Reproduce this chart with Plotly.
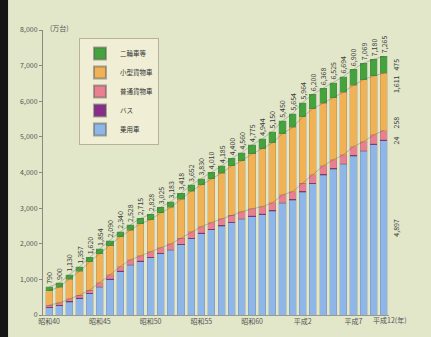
import plotly.graph_objects as go

years = [str(y) for y in range(1965, 1996)] + ["1998", "1999", "2000"]
tick_years = ["1965", "1970", "1975", "1980", "1985", "1990", "1995"]
tick_text = ["昭和40", "昭和45", "昭和50", "昭和55", "昭和60", "平成2", "平成7"]
last_tick_text = "平成12(年)"

passenger = [205, 256, 363, 462, 591, 780, 993, 1216, 1393, 1495, 1606, 1713, 1811, 1966, 2137, 2282,
             2390, 2492, 2587, 2682, 2757, 2815, 2913, 3132, 3220, 3451, 3679, 3926, 4090, 4225, 4454,
             4592, 4777, 4897]
bus = [15, 16, 17, 18, 19, 20, 21, 21, 22, 22, 22, 22, 23, 23, 23, 23, 23, 23, 23, 23, 23, 23, 23, 23,
       24, 24, 24, 24, 24, 24, 24, 24, 24, 24]
large_truck = [60, 65, 70, 80, 90, 100, 110, 120, 130, 140, 150, 155, 160, 165, 170, 175, 180, 185, 190,
               195, 200, 205, 210, 215, 220, 225, 230, 235, 240, 245, 250, 252, 255, 258]
small_truck = [400, 448, 560, 672, 790, 819, 826, 838, 833, 908, 895, 975, 1024, 1094, 1147, 1170, 1227,
               1285, 1385, 1430, 1545, 1621, 1684, 1720, 1800, 1864, 1857, 1763, 1741, 1760, 1722, 1741,
               1656, 1611]
two_wheel = [110, 115, 120, 125, 130, 135, 140, 145, 150, 150, 155, 160, 165, 170, 175, 180, 190, 200,
             215, 230, 250, 280, 320, 360, 390, 400, 410, 420, 430, 440, 450, 460, 468, 475]

names = ["乗用車", "バス", "普通貨物車", "小型貨物車", "二輪車等"]
colors = ["#8fb6e8", "#8a2c8c", "#e97f90", "#f1b155", "#44a33c"]
series = [passenger, bus, large_truck, small_truck, two_wheel]

totals = [sum(v) for v in zip(*series)]

FONT = "Noto Sans CJK JP"
fig = go.Figure()
for i, (nm, col, vals) in enumerate(zip(names, colors, series)):
    kw = {}
    if i == len(series) - 1:
        kw = dict(text=[f"{t:,}" for t in totals], textposition="outside", textangle=-90,
                  constraintext="none", cliponaxis=False,
                  textfont=dict(size=7, color="#3a3a3a", family=FONT))
    fig.add_trace(go.Bar(x=years, y=vals, name=nm,
                         marker=dict(color=col, line=dict(width=0.4, color="rgba(90,90,90,0.5)")),
                         hoverinfo="skip", **kw))

# boundary guide lines
cum = [0] * len(years)
bounds = []
for vals in series:
    cum = [c + v for c, v in zip(cum, vals)]
    bounds.append(cum[:])
for b in (bounds[2], bounds[3], bounds[4]):
    fig.add_trace(go.Scatter(x=years, y=b, mode="lines", line=dict(color="rgba(80,80,80,0.45)", width=0.7),
                             showlegend=False, hoverinfo="skip"))

# side labels for last bar (x given as category index)
last = len(years) - 1
side = [
    (f"{two_wheel[last]:,}", totals[last] - two_wheel[last] / 2, "middle"),
    (f"{small_truck[last]:,}", bounds[3][last], "top"),
    (f"{large_truck[last]:,}", bounds[2][last], "bottom"),
    (f"{bus[last]:,}", bounds[0][last], "middle"),
    (f"{passenger[last]:,}", passenger[last] / 2, "middle"),
]
for txt, yv, ya in side:
    fig.add_annotation(x=last, y=yv, text=txt, textangle=-90, showarrow=False,
                       xshift=12, yanchor=ya, font=dict(size=7, color="#3a3a3a", family=FONT))

# last x label (placed like a tick label, shifted right so it does not collide)
fig.add_annotation(x=last, y=0, yref="paper", text=last_tick_text, showarrow=False,
                   xanchor="left", yanchor="top", xshift=-13, yshift=2,
                   font=dict(size=7, color="#555", family=FONT))

fig.add_annotation(xref="paper", yref="paper", x=0.014, y=1.032, text="(万台)", showarrow=False,
                   font=dict(size=7, color="#555", family=FONT))

fig.add_shape(type="rect", xref="paper", yref="paper", x0=-0.2, x1=-0.101, y0=-0.2, y1=1.2,
              fillcolor="#151515", line=dict(width=0), layer="above")

fig.update_layout(
    width=431, height=337,
    margin=dict(l=43, r=42, t=30, b=22),
    barmode="stack", bargap=0.3,
    paper_bgcolor="#e1e7c8", plot_bgcolor="#e1e7c8",
    font=dict(family=FONT, size=7, color="#555"),
    legend=dict(x=0.104, y=0.972, xanchor="left", yanchor="top", traceorder="reversed",
                bgcolor="#f0efd6", bordercolor="#b9b29a", borderwidth=1,
                font=dict(size=6.5, color="#333", family=FONT), itemwidth=30, tracegroupgap=0,
                itemsizing="constant"),
    xaxis=dict(type="category", categoryorder="array", categoryarray=years, range=[-0.6, 33.5],
               tickmode="array", tickvals=tick_years, ticktext=tick_text, ticks="", tickangle=0,
               showline=True, linecolor="#9a9a8a", linewidth=1, showgrid=False,
               tickfont=dict(size=7, color="#555")),
    yaxis=dict(range=[0, 8000], tickvals=[0, 1000, 2000, 3000, 4000, 5000, 6000, 7000, 8000],
               tickformat=",", showline=True, linecolor="#8a8a80", linewidth=1, ticks="outside",
               ticklen=3, tickcolor="#8a8a80", showgrid=False, zeroline=False,
               tickfont=dict(size=7, color="#555")),
)

fig.write_html("out.html")
